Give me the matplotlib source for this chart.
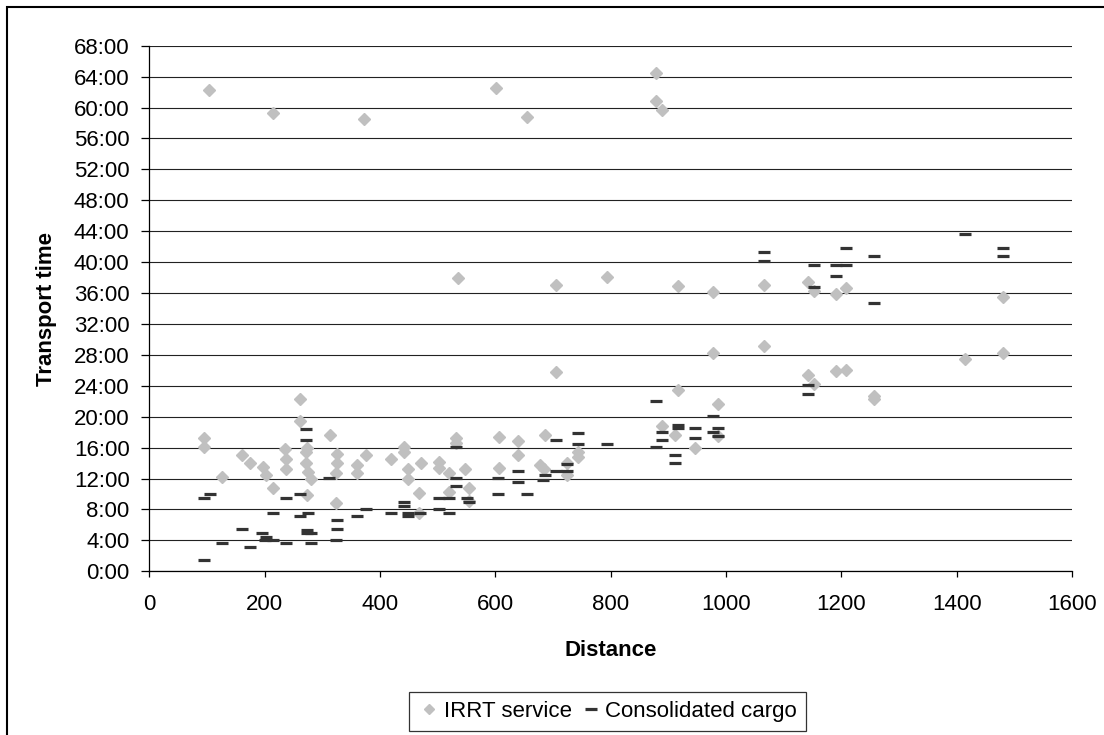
import matplotlib
matplotlib.use("Agg")
import matplotlib.pyplot as plt
from matplotlib.lines import Line2D
from matplotlib.patches import Rectangle
from matplotlib.ticker import FuncFormatter, MultipleLocator

plt.rcParams["font.family"] = ["Liberation Sans", "DejaVu Sans"]

# IRRT service: distance (km) and transport time (hours)
irrt_dist = [
    95, 95, 126, 161, 174, 197, 203, 215, 235, 237, 237, 262, 262, 274, 272,
    272, 275, 281, 273, 313, 326, 326, 323, 324, 360, 360, 376,
    420, 442, 442, 448, 448, 471, 468, 468, 503, 503, 519, 519, 532, 532,
    548, 554, 554, 607, 607, 639, 639, 687, 677, 684, 706, 725, 725, 744, 744,
    889, 911, 917, 946, 978, 987, 987, 1066, 1143, 1152, 1190,
    104, 215, 373, 601, 655, 535, 879, 879, 889, 706, 794, 917, 977, 1066,
    1142, 1152, 1190, 1209, 1209, 1256, 1256, 1414, 1480, 1480,
]
irrt_time = [
    17.2, 16.1, 12.2, 15.0, 14.0, 13.5, 12.4, 10.8, 15.8, 14.5, 13.2, 22.3, 19.5, 16.0, 15.4,
    14.0, 12.9, 12.0, 9.9, 17.6, 15.2, 14.0, 12.7, 8.9, 13.8, 12.7, 15.0,
    14.5, 16.1, 15.5, 13.3, 12.0, 14.0, 10.1, 7.6, 14.2, 13.4, 12.7, 10.3, 17.2, 16.6,
    13.2, 10.8, 9.1, 17.4, 13.4, 16.9, 15.0, 17.6, 13.7, 13.2, 25.8, 14.0, 12.5, 15.5, 14.8,
    18.8, 17.6, 23.4, 16.0, 28.2, 21.6, 17.5, 29.1, 25.4, 24.2, 25.9,
    62.3, 59.3, 58.5, 62.5, 58.8, 37.9, 64.5, 60.8, 59.7, 37.1, 38.1, 36.9, 36.2, 37.1,
    37.4, 36.3, 35.9, 36.6, 26.1, 22.7, 22.3, 27.5, 28.2, 35.5,
]

# Consolidated cargo
cons_dist = [
    95, 95, 105, 126, 161, 174, 196, 203, 201, 215, 215, 237, 237, 262, 262,
    272, 272, 275, 274, 274, 281, 281, 312, 325, 325, 323, 361, 376,
    420, 442, 442, 448, 448, 469, 503, 503, 519, 519, 532, 532, 532, 551, 554,
    604, 604, 639, 639, 655, 682, 687, 706, 706, 724, 724, 744, 744, 793,
    879, 879, 889, 889, 917, 917, 911, 911, 946, 946, 978, 978, 987, 987, 1143, 1143,
    1066, 1066, 1152, 1152, 1190, 1190, 1209, 1209, 1256, 1256, 1414, 1480, 1480,
]
cons_time = [
    9.5, 1.5, 10.0, 3.6, 5.5, 3.1, 5.0, 4.5, 4.1, 4.1, 7.6, 9.5, 3.6, 10.0, 7.1,
    18.4, 17.0, 7.6, 5.4, 5.0, 5.0, 3.6, 12.1, 6.6, 5.5, 4.1, 7.1, 8.0,
    7.6, 9.0, 8.5, 7.6, 7.2, 7.6, 9.5, 8.1, 9.5, 7.6, 16.1, 12.1, 11.1, 9.5, 9.0,
    12.1, 10.0, 13.0, 11.6, 10.0, 11.8, 12.5, 17.0, 13.0, 13.9, 13.0, 17.9, 16.5, 16.5,
    22.0, 16.1, 18.0, 17.0, 18.9, 18.5, 15.1, 14.0, 18.5, 17.2, 20.1, 18.0, 18.5, 17.5, 24.1, 22.9,
    41.3, 40.1, 39.6, 36.8, 39.6, 38.2, 41.8, 39.6, 40.8, 34.7, 43.7, 41.8, 40.8,
]

DIAMOND = "#c0c0c0"
DASH = "#333333"
FS = 16

fig = plt.figure(figsize=(11.04, 7.35), dpi=100)
ax = fig.add_axes([0.1352, 0.2227, 0.8358, 0.7151])

ax.plot(irrt_dist, irrt_time, linestyle="none", marker="D", ms=6.3,
        color=DIAMOND, mec=DIAMOND, zorder=3)
ax.plot(cons_dist, cons_time, linestyle="none", marker="_", ms=8.8, mew=2.3,
        color=DASH, zorder=4)

ax.set_xlim(0, 1600)
ax.set_ylim(0, 68)
ax.xaxis.set_major_locator(MultipleLocator(200))
ax.yaxis.set_major_locator(MultipleLocator(4))
ax.yaxis.set_major_formatter(FuncFormatter(lambda v, p: f"{int(round(v))}:00"))

ax.grid(axis="y", color="#222222", linewidth=0.8, zorder=0)
ax.set_axisbelow(True)
ax.get_ygridlines()[-1].set_color("#d8d8d8")
for side in ("top", "right"):
    ax.spines[side].set_visible(False)
for side in ("left", "bottom"):
    ax.spines[side].set_color("black")
    ax.spines[side].set_linewidth(0.9)

ax.tick_params(axis="y", length=5.8, width=0.9, pad=8.4, labelsize=FS)
ax.tick_params(axis="x", length=4.3, width=0.9, pad=12, labelsize=FS)

ax.set_xlabel("Distance", fontsize=FS, fontweight="bold")
ax.set_ylabel("Transport time", fontsize=FS, fontweight="bold")
ax.xaxis.set_label_coords(0.5, -0.151)
ax.xaxis.label.set_va("center")
ax.yaxis.set_label_coords(-0.111, 0.5)
ax.yaxis.label.set_va("center")

handles = [
    Line2D([], [], linestyle="none", marker="D", ms=5.2, color=DIAMOND, mec=DIAMOND),
    Line2D([], [], linestyle="none", marker="_", ms=8.8, mew=2.3, color=DASH),
]
leg = fig.legend(handles, ["IRRT service", "Consolidated cargo"], loc="center",
                 bbox_to_anchor=(0.5503, 0.032), ncol=2, fontsize=FS,
                 frameon=True, fancybox=False, edgecolor="black",
                 handlelength=1.0, handletextpad=0.15, columnspacing=0.35,
                 borderpad=0.4, borderaxespad=0)
leg.get_frame().set_linewidth(0.9)

fig.add_artist(Rectangle((7 / 1104, -0.05), 1.1, 1.05 - 7.3 / 735,
                         transform=fig.transFigure, fill=False,
                         edgecolor="black", linewidth=1.5, clip_on=False))

fig.savefig("out.png", dpi=100)
